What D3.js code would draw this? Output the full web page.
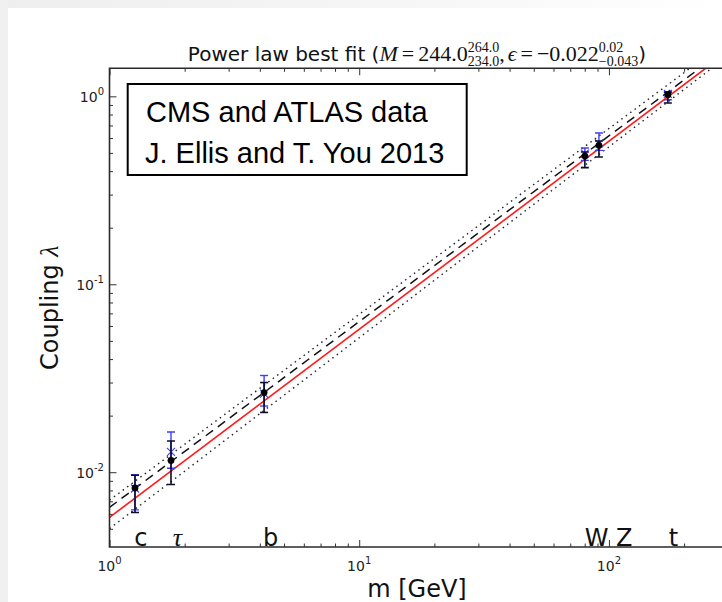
<!DOCTYPE html>
<html>
<head>
<meta charset="utf-8">
<script src="https://cdn.jsdelivr.net/npm/d3@7"></script>
<style>
  body { margin: 0; background: #fff; }
  svg { display: block; }
</style>
</head>
<body>
<div id="chart"></div>
<script>
// masses in GeV and couplings
var particles   = ["c", "τ", "b", "W", "Z", "t"];
var masses      = [1.265, 1.763, 4.16, 80.1, 91.2, 172.2];
var coupling    = [0.00825, 0.01154, 0.02654, 0.4813, 0.5487, 1.021];
var couplingHi  = [0.00964, 0.01467, 0.0300, 0.5055, 0.5783, 1.054];
var couplingLo  = [0.00610, 0.00860, 0.0208, 0.4175, 0.4755, 0.921];
// second estimate (blue crosses)
var blueCoupling = [0.00819, 0.01282, 0.0262, 0.4955, 0.5622, 1.03];
var blueHi       = [0.0097, 0.01638, 0.0327, 0.5309, 0.638, 1.05];
var blueLo       = [0.0063, 0.0105, 0.0225, 0.4566, 0.516, 0.96];
// where the particle names sit along the axis (GeV)
var labelMass = [1.255, 1.79, 4.12, 80.1, 106.7, 173.6];

// fit lines, two [m, lambda] points each (straight in log-log)
var lineSM    = [[1, 0.00575], [244, 1.41]];
var lineBest  = [[1, 0.0065],  [231, 1.41]];
var lineUpper = [[1, 0.0071],  [211, 1.41]];
var lineLower = [[1, 0.00501], [258, 1.41]];

var xMajor = [1, 10, 100];
var yMajor = [1, 0.1, 0.01];
var xExp = ["0", "1", "2"];
var yExp = ["0", "-1", "-2"];

var W = 722, H = 602;
var pLeft = 109.5, pTop = 68.3, pBottom = 547, pRight = 724.4;

var svg = d3.select("#chart").append("svg")
    .attr("width", W)
    .attr("height", H);

// slide background: faint grey border at top/left
var defs = svg.append("defs");
var grad = defs.append("linearGradient").attr("id", "topfade")
    .attr("x1", 0).attr("x2", 1).attr("y1", 0).attr("y2", 0);
grad.append("stop").attr("offset", "0%").attr("stop-color", "#eeeeee");
grad.append("stop").attr("offset", "55%").attr("stop-color", "#f6f6f6");
grad.append("stop").attr("offset", "100%").attr("stop-color", "#ffffff");
svg.append("rect").attr("width", W).attr("height", H).attr("fill", "#fff");
svg.append("rect").attr("width", W).attr("height", 8).attr("fill", "url(#topfade)");
svg.append("rect").attr("width", 8).attr("height", H).attr("fill", "#f0f0f0");

var x = d3.scaleLog().domain([1, 290]).range([pLeft, pRight]);
var y = d3.scaleLog().domain([0.004, 1.41]).range([pBottom, pTop]);

defs.append("clipPath").attr("id", "plotclip")
  .append("rect")
    .attr("x", pLeft).attr("y", pTop)
    .attr("width", pRight - pLeft).attr("height", pBottom - pTop);

// minor ticks
var xMinor = [], yMinor = [];
[1, 10, 100].forEach(function(d) {
  for (var k = 2; k <= 9; k++) if (d * k < 290) xMinor.push(d * k);
});
[0.001, 0.01, 0.1, 1].forEach(function(d) {
  for (var k = 2; k <= 9; k++) if (d * k > 0.004 && d * k < 1.41) yMinor.push(d * k);
});

function tickAxis(gen, vals, size, tx, ty) {
  var g = svg.append("g")
    .attr("transform", "translate(" + tx + "," + ty + ")")
    .call(gen.tickValues(vals).tickSize(size).tickFormat(""));
  g.select(".domain").remove();
  g.selectAll("line").attr("stroke", "#333").attr("stroke-width", 1);
}
tickAxis(d3.axisBottom(x), xMajor, -7, 0, pBottom);
tickAxis(d3.axisBottom(x), xMinor, -3.5, 0, pBottom);
tickAxis(d3.axisTop(x), xMajor, -7, 0, pTop);
tickAxis(d3.axisTop(x), xMinor, -3.5, 0, pTop);
tickAxis(d3.axisLeft(y), yMajor, -7, pLeft, 0);
tickAxis(d3.axisLeft(y), yMinor, -3.5, pLeft, 0);

// fit lines
var plot = svg.append("g").attr("clip-path", "url(#plotclip)");
var line = d3.line()
    .x(function(d) { return x(d[0]); })
    .y(function(d) { return y(d[1]); });

plot.append("path").datum(lineUpper).attr("d", line)
    .attr("fill", "none").attr("stroke", "#222").attr("stroke-width", 1.4)
    .attr("stroke-dasharray", "1.5,4");
plot.append("path").datum(lineLower).attr("d", line)
    .attr("fill", "none").attr("stroke", "#222").attr("stroke-width", 1.4)
    .attr("stroke-dasharray", "1.5,4");
plot.append("path").datum(lineBest).attr("d", line)
    .attr("fill", "none").attr("stroke", "#111").attr("stroke-width", 1.5)
    .attr("stroke-dasharray", "9,6");
plot.append("path").datum(lineSM).attr("d", line)
    .attr("fill", "none").attr("stroke", "#ff1a1a").attr("stroke-width", 1.6);

// blue estimates
var idx = d3.range(masses.length);
var blue = plot.append("g").attr("stroke", "#3c3cff").attr("stroke-width", 1.4);
idx.forEach(function(i) {
  var cx = x(masses[i]);
  blue.append("line").attr("x1", cx).attr("x2", cx)
      .attr("y1", y(blueLo[i])).attr("y2", y(blueHi[i]));
  [blueLo[i], blueHi[i]].forEach(function(v) {
    blue.append("line").attr("x1", cx - 4).attr("x2", cx + 4)
        .attr("y1", y(v)).attr("y2", y(v));
  });
  var cy = y(blueCoupling[i]);
  blue.append("path")
      .attr("d", "M" + (cx - 4) + "," + (cy - 4) + "L" + (cx + 4) + "," + (cy + 4) +
                 "M" + (cx - 4) + "," + (cy + 4) + "L" + (cx + 4) + "," + (cy - 4))
      .attr("stroke-width", 1.1);
});

// black data points with error bars
var black = plot.append("g").attr("stroke", "#0d0d2b").attr("stroke-width", 1.6);
idx.forEach(function(i) {
  var cx = x(masses[i]);
  black.append("line").attr("x1", cx).attr("x2", cx)
      .attr("y1", y(couplingLo[i])).attr("y2", y(couplingHi[i]));
  [couplingLo[i], couplingHi[i]].forEach(function(v) {
    black.append("line").attr("x1", cx - 4).attr("x2", cx + 4)
        .attr("y1", y(v)).attr("y2", y(v));
  });
});
plot.selectAll("circle.pt").data(idx).enter().append("circle")
    .attr("class", "pt")
    .attr("cx", function(i) { return x(masses[i]); })
    .attr("cy", function(i) { return y(coupling[i]); })
    .attr("r", 3.4)
    .attr("fill", "#000");

// axes frame (right side is off the page)
svg.append("path")
    .attr("d", "M" + pRight + "," + pTop + "H" + pLeft + "V" + pBottom + "H" + pRight)
    .attr("fill", "none").attr("stroke", "#2a2a2a").attr("stroke-width", 1.6);

// particle names along the bottom
svg.selectAll("text.pname").data(idx).enter().append("text")
    .attr("class", "pname")
    .attr("x", function(i) { return x(labelMass[i]); })
    .attr("y", 545.5)
    .attr("font-family", function(i) { return particles[i] === "τ" ? "Liberation Serif" : "DejaVu Sans"; })
    .attr("font-style", function(i) { return particles[i] === "τ" ? "italic" : "normal"; })
    .attr("font-size", function(i) { return particles[i] === "τ" ? 26 : 24; })
    .attr("fill", "#111")
    .text(function(i) { return particles[i]; });

// tick labels 10^n
xMajor.forEach(function(v, i) {
  var t = svg.append("text")
      .attr("x", x(v)).attr("y", 571)
      .attr("text-anchor", "middle")
      .attr("font-family", "DejaVu Sans").attr("font-size", 14).attr("fill", "#222");
  t.append("tspan").text("10");
  t.append("tspan").attr("dy", -7).attr("font-size", 10).text(xExp[i]);
});
yMajor.forEach(function(v, i) {
  var t = svg.append("text")
      .attr("x", 104).attr("y", y(v) + 6)
      .attr("text-anchor", "end")
      .attr("font-family", "DejaVu Sans").attr("font-size", 14).attr("fill", "#222");
  t.append("tspan").text("10");
  t.append("tspan").attr("dy", -7).attr("font-size", 10).text(yExp[i]);
});

// axis labels
svg.append("text")
    .attr("x", (pLeft + pRight) / 2).attr("y", 597)
    .attr("text-anchor", "middle")
    .attr("font-family", "DejaVu Sans").attr("font-size", 24).attr("fill", "#111")
    .text("m [GeV]");
var yl = svg.append("text")
    .attr("transform", "translate(58," + ((pTop + pBottom) / 2) + ") rotate(-90)")
    .attr("text-anchor", "middle")
    .attr("font-family", "DejaVu Sans").attr("font-size", 24).attr("fill", "#111");
yl.append("tspan").text("Coupling ");
yl.append("tspan").attr("font-family", "Liberation Serif").attr("font-style", "italic")
    .attr("font-size", 26).text("λ");

// title with stacked super/subscripts
var tg = svg.append("g");
var cur = 0, base = 61;
function piece(str, opt) {
  opt = opt || {};
  var t = tg.append("text")
      .attr("x", cur).attr("y", base + (opt.dy || 0))
      .attr("font-family", opt.serif ? "Liberation Serif" : "DejaVu Sans")
      .attr("font-style", opt.italic ? "italic" : "normal")
      .attr("font-size", opt.size || 20)
      .attr("fill", "#111")
      .text(str);
  return t.node().getComputedTextLength();
}
function add(str, opt) { cur += piece(str, opt); }
function stack(sup, sub) {
  var w1 = piece(sup, {serif: true, size: 14, dy: -9});
  var w2 = piece(sub, {serif: true, size: 14, dy: 5});
  cur += Math.max(w1, w2);
}
add("Power law best fit (");
add("M", {serif: true, italic: true, size: 22});
cur += 4; add("=", {serif: true, size: 22}); cur += 4;
add("244.0", {serif: true, size: 22});
stack("264.0", "234.0");
add(", ", {serif: true, size: 22});
cur += 3;
add("ϵ", {serif: true, italic: true, size: 22});
cur += 4; add("=", {serif: true, size: 22}); cur += 4;
add("−0.022", {serif: true, size: 22});
stack("0.02", "−0.043");
add(")");
tg.attr("transform", "translate(" + ((pLeft + pRight) / 2 - cur / 2) + ",0)");

// text box overlay
svg.append("rect")
    .attr("x", 127.7).attr("y", 84)
    .attr("width", 339).attr("height", 91)
    .attr("fill", "#fff").attr("stroke", "#000").attr("stroke-width", 2);
svg.append("text")
    .attr("x", 146).attr("y", 122)
    .attr("font-family", "Liberation Sans").attr("font-size", 29).attr("fill", "#000")
    .text("CMS and ATLAS data");
svg.append("text")
    .attr("x", 145).attr("y", 163)
    .attr("font-family", "Liberation Sans").attr("font-size", 29).attr("fill", "#000")
    .text("J. Ellis and T. You 2013");
</script>
</body>
</html>
